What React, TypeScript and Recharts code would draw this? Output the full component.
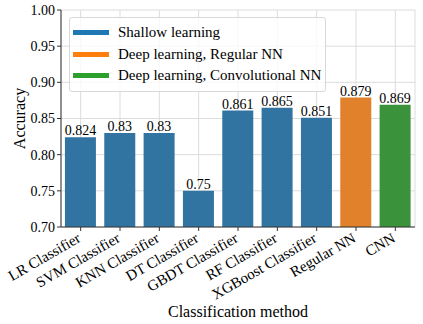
import { BarChart, Bar, XAxis, YAxis, CartesianGrid, Cell, LabelList, Legend } from "recharts";

const methods = [
  "LR Classifier",
  "SVM Classifier",
  "KNN Classifier",
  "DT Classifier",
  "GBDT Classifier",
  "RF Classifier",
  "XGBoost Classifier",
  "Regular NN",
  "CNN",
];
const accuracy = [0.824, 0.83, 0.83, 0.75, 0.861, 0.865, 0.851, 0.879, 0.869];
const groupOf = [0, 0, 0, 0, 0, 0, 0, 1, 2];
const groups = ["Shallow learning", "Deep learning, Regular NN", "Deep learning, Convolutional NN"];
const barColors = ["#3274a1", "#e1812c", "#3a923a"];
const legendColors = ["#1f77b4", "#ff7f0e", "#2ca02c"];
const yTicks = [0.7, 0.75, 0.8, 0.85, 0.9, 0.95, 1.0];

const font = "Liberation Serif";

const data = methods.map((m, i) => ({ name: m, acc: accuracy[i], group: groupOf[i] }));

// rotated category labels, right end sits just under the tick
const XTick = ({ x, y, payload }: any) => (
  <text
    x={x + 1}
    y={y + 10}
    transform={`rotate(-30, ${x + 1}, ${y + 10})`}
    textAnchor="end"
    fontSize={15}
    style={{ fontFamily: font }}
    fill="#000"
  >
    {payload.value}
  </text>
);

const LegendBox = () => (
  <div
    style={{
      background: "rgba(255,255,255,0.8)",
      border: "1px solid #d8d8d8",
      borderRadius: 3,
      padding: "4px 0 4px 3px",
      fontFamily: font,
      fontSize: 15,
      boxSizing: "border-box",
      width: 257,
      color: "#000",
    }}
  >
    {groups.map((g, i) => (
      <div key={g} style={{ display: "flex", alignItems: "center", height: 21.5 }}>
        <div style={{ width: 36, height: 5, background: legendColors[i], marginRight: 9 }} />
        <span>{g}</span>
      </div>
    ))}
  </div>
);

export default function App() {
  return (
    <div style={{ position: "absolute", left: 0, top: 0, fontFamily: font }}>
      <BarChart
        width={423}
        height={324}
        data={data}
        margin={{ top: 10, right: 8, left: 0, bottom: 0 }}
        barCategoryGap="10%"
        style={{ fontFamily: font }}
      >
        <CartesianGrid stroke="#dcdcdc" strokeWidth={1} />
        <XAxis
          dataKey="name"
          height={97}
          interval={0}
          tick={<XTick />}
          tickSize={4}
          tickMargin={0}
          stroke="#333"
          label={{ value: "Classification method", position: "insideBottom", offset: 7, fontSize: 16, style: { fontFamily: font }, fill: "#000" }}
        />
        <XAxis xAxisId="top" dataKey="name" orientation="top" height={0} tick={false} tickLine={false} stroke="#999" />
        <YAxis
          width={61}
          domain={[0.7, 1.0]}
          ticks={yTicks}
          tickFormatter={(v: number) => v.toFixed(2)}
          tickSize={4}
          tickMargin={2}
          stroke="#333"
          tick={{ fontSize: 14, style: { fontFamily: font }, fill: "#000" }}
          label={{ value: "Accuracy", angle: -90, position: "center", dx: -11, fontSize: 16, style: { fontFamily: font }, fill: "#000" }}
        />
        <YAxis yAxisId="right" orientation="right" width={0} domain={[0.7, 1.0]} tick={false} tickLine={false} stroke="#bbb" />
        <Legend
          layout="horizontal"
          verticalAlign="middle"
          align="center"
          content={<LegendBox />}
          wrapperStyle={{ left: 69, top: 17, width: 257, height: 68 }}
        />
        <Bar dataKey="acc" isAnimationActive={false}>
          {data.map((d, i) => (
            <Cell key={i} fill={barColors[d.group]} />
          ))}
          <LabelList dataKey="acc" position="top" offset={2} fontSize={14} style={{ fontFamily: font }} fill="#000" />
        </Bar>
      </BarChart>
    </div>
  );
}
